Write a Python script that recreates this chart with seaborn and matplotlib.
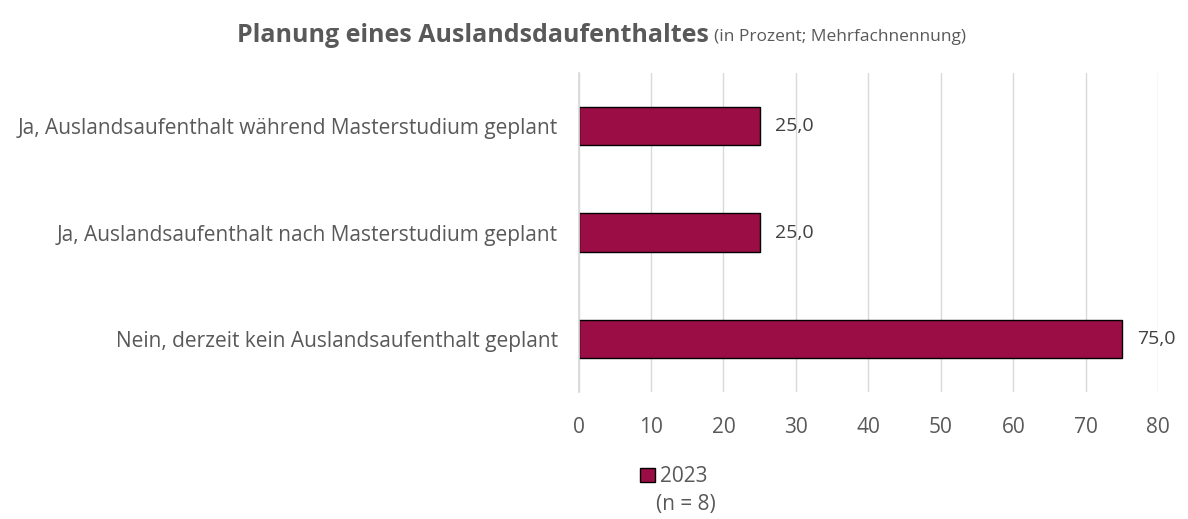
import pandas as pd
import matplotlib.pyplot as plt
import seaborn as sns
from matplotlib.patches import Patch

categories = [
    'Ja, Auslandsaufenthalt während Masterstudium geplant',
    'Ja, Auslandsaufenthalt nach Masterstudium geplant',
    'Nein, derzeit kein Auslandsaufenthalt geplant',
]
values_2023 = [25.0, 25.0, 75.0]
x_ticks = [0, 10, 20, 30, 40, 50, 60, 70, 80]

bar_color = '#9B0D45'
text_color = '#595959'

df = pd.DataFrame({'Kategorie': categories, 'Prozent': values_2023})

sns.set_theme(style='white')
plt.rcParams['font.family'] = ['Open Sans', 'DejaVu Sans']

fig = plt.figure(figsize=(11.88, 5.19), dpi=100)
ax = fig.add_axes([0.487, 0.245, 0.488, 0.614])

sns.barplot(data=df, x='Prozent', y='Kategorie', color=bar_color, saturation=1,
            width=0.36, edgecolor='black', linewidth=1.0, ax=ax)

# value labels, German decimal comma
for i, v in enumerate(values_2023):
    ax.text(v + 2.1, i, f'{v:.1f}'.replace('.', ','), va='center', ha='left',
            fontsize=14, color='#404040')

ax.set_xlim(0, 80)
ax.set_xticks(x_ticks)
ax.set_ylim(2.5, -0.5)
ax.grid(axis='x', color='#D9D9D9', linewidth=1)
ax.set_axisbelow(True)
for s in ['top', 'right', 'bottom']:
    ax.spines[s].set_visible(False)
ax.spines['left'].set_color('#D9D9D9')
ax.tick_params(axis='both', length=0, labelcolor=text_color)
ax.tick_params(axis='x', pad=18, labelsize=15)
ax.tick_params(axis='y', pad=15, labelsize=15)
ax.set_xlabel('')
ax.set_ylabel('')

fig.text(0.597, 0.932, 'Planung eines Auslandsdaufenthaltes', ha='right', va='center',
         fontsize=18, fontweight='bold', color=text_color)
fig.text(0.601, 0.929, '(in Prozent; Mehrfachnennung)', ha='left', va='center',
         fontsize=12.5, color=text_color)

handle = Patch(facecolor=bar_color, edgecolor='black', linewidth=1.0)
fig.legend([handle], ['2023'], loc='center', bbox_to_anchor=(0.567, 0.081),
           frameon=False, fontsize=15, labelcolor=text_color,
           handlelength=0.7, handleheight=0.7, handletextpad=0.25,
           borderpad=0, borderaxespad=0)
fig.text(0.577, 0.027, '(n = 8)', ha='center', va='center', fontsize=15, color=text_color)

fig.savefig('out.png', dpi=100)
